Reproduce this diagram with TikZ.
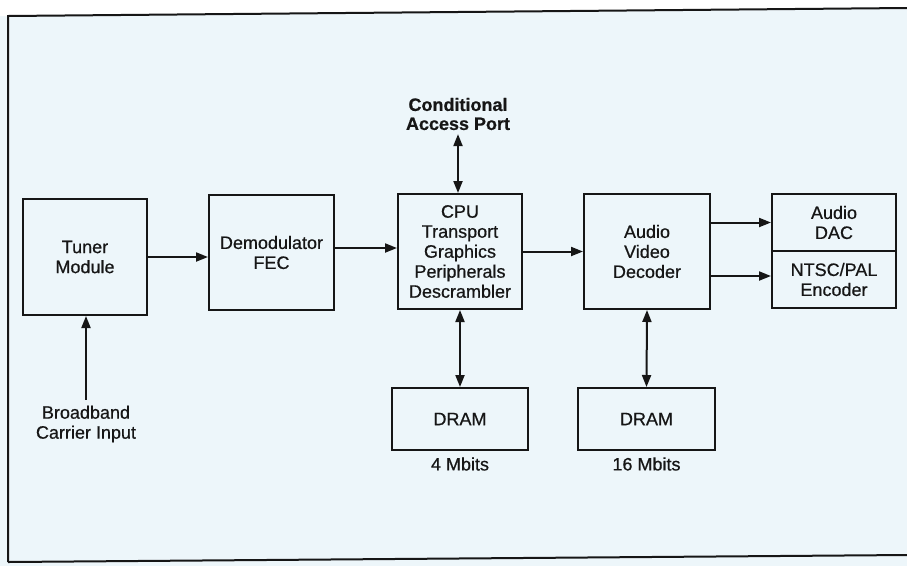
\documentclass[tikz,border=0pt]{standalone}
\usepackage{fontspec}
\setmainfont{Liberation Sans}[FakeBold=0.6]
\newfontfamily\scanfont{Liberation Sans}[FakeBold=0.6]
\usetikzlibrary{arrows.meta}
\definecolor{scanbg}{RGB}{237,246,250}
\definecolor{ink}{RGB}{22,22,22}

\begin{document}
\begin{tikzpicture}[x=1pt,y=-1pt,line width=2pt,color=ink,
	blk/.style={rectangle, draw, align=center, inner sep=0pt, font=\scanfont\fontsize{18}{20}\selectfont},
	lbl/.style={align=center, inner sep=3pt, font=\scanfont\fontsize{18}{20}\selectfont},
	sig/.style={-{Triangle[length=12pt,width=9pt]}},
	bus/.style={{Triangle[length=12pt,width=9pt]}-{Triangle[length=12pt,width=9pt]}}]
	\useasboundingbox (0,0) rectangle (907,566);
	\fill[scanbg] (0,0) rectangle (907,566);
	\fill[white] (0,0) -- (907,0) -- (907,8) -- (8,16) -- (0,16) -- cycle;
	% page frame of the scan
	\draw (8,562) -- (8,16) -- (907,8);
	\draw (8,562) -- (907,555);

	\node (tuner) at (85,257)	[blk, minimum width=124pt, minimum height=116pt]	{Tuner\\Module};
	\node (demod) at (271.5,252.5)	[blk, minimum width=125pt, minimum height=115pt]	{Demodulator\\FEC};
	\node (cpu) at (460,251.5)	[blk, minimum width=124pt, minimum height=115pt]	{CPU\\Transport\\Graphics\\Peripherals\\Descrambler};
	\node (dec) at (647,251.5)	[blk, minimum width=126pt, minimum height=115pt]	{Audio\\Video\\Decoder};
	\node (dac) at (834,222.5)	[blk, minimum width=124pt, minimum height=57pt]	{Audio\\DAC};
	\node (ntsc) at (834,279.5)	[blk, minimum width=124pt, minimum height=57pt]	{NTSC/PAL\\Encoder};
	\node (dram1) at (460,419)	[blk, minimum width=136pt, minimum height=62pt]	{DRAM};
	\node (dram2) at (646.5,419)	[blk, minimum width=137pt, minimum height=62pt]	{DRAM};

	\node (cap) at (458,114)	[lbl, font=\fontsize{18}{19}\selectfont\bfseries]	{Conditional\\Access Port};
	\node (bb) at (86,424)	[lbl, inner sep=5pt]	{Broadband\\Carrier Input};
	\node (m4) at (460,464)	[lbl, inner sep=0pt]	{4 Mbits};
	\node (m16) at (646.5,464)	[lbl, inner sep=0pt]	{16 Mbits};

	\draw[sig] (bb.north) -- (bb.north |- tuner.south);
	\draw[sig] (tuner.east) -- (tuner.east -| demod.west);
	\draw[sig] ([yshift=4.5pt]demod.east) -- ([yshift=4.5pt]demod.east -| cpu.west);
	\draw[sig] (cpu.east) -- (cpu.east -| dec.west);
	\draw[sig] (dac.west -| dec.east) -- (dac.west);
	\draw[sig] ([yshift=3.5pt]ntsc.west -| dec.east) -- ([yshift=3.5pt]ntsc.west);
	\draw[bus] (cpu.north -| cap.south) -- (cap.south);
	\draw[bus] (cpu.south) -- (dram1.north);
	\draw[bus] (dec.south) -- (dram2.north);
\end{tikzpicture}
\end{document}
